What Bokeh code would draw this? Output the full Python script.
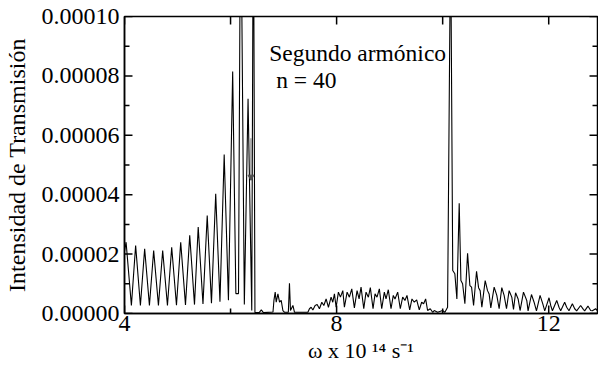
import math
from bokeh.plotting import figure
from bokeh.models import (LinearAxis, FixedTicker, PrintfTickFormatter, Range1d)
from bokeh.core.properties import value
from bokeh.embed import file_html
from bokeh.resources import INLINE

# ---------------- data ----------------
omega = [
    4.00, 4.03, 4.13, 4.21, 4.30, 4.38, 4.47, 4.55, 4.64, 4.72, 4.81, 4.89, 4.98, 5.06,
    5.15, 5.23, 5.32, 5.39, 5.48, 5.56, 5.64, 5.72, 5.80, 5.88, 5.96, 6.04, 6.10, 6.15,
    6.19, 6.26, 6.33, 6.40, 6.43, 6.46, 6.54, 6.58, 6.62, 6.80,
    6.818, 6.842, 6.861, 6.893, 6.924, 6.955, 6.987, 7.02, 7.09, 7.111, 7.130, 7.176,
    7.206, 7.458, 7.488, 7.520, 7.552, 7.595, 7.633, 7.676, 7.721, 7.759, 7.802, 7.846,
    7.896, 7.928, 7.959, 7.991, 8.034, 8.072, 8.117, 8.147, 8.198, 8.241, 8.286, 8.335,
    8.386, 8.424, 8.461, 8.512, 8.555, 8.599, 8.636, 8.687, 8.725, 8.762, 8.806, 8.851,
    8.900, 8.932, 8.975, 9.026, 9.069, 9.101, 9.152, 9.201, 9.246, 9.289, 9.327, 9.378,
    9.421, 9.465, 9.510, 9.559, 9.604, 9.641, 9.679, 9.716, 9.766, 9.811, 9.841, 9.905,
    9.999, 10.042, 10.093, 10.15, 10.19, 10.23, 10.268, 10.312, 10.344, 10.376, 10.419,
    10.470, 10.513, 10.545, 10.583, 10.639, 10.677, 10.707, 10.739, 10.802, 10.846,
    10.876, 10.908, 10.971, 11.021, 11.065, 11.115, 11.159, 11.204, 11.253, 11.304,
    11.336, 11.375, 11.423, 11.460, 11.524, 11.586, 11.611, 11.675, 11.724, 11.769,
    11.837, 11.887, 11.925, 12.006, 12.038, 12.070, 12.151, 12.194, 12.226, 12.301,
    12.339, 12.382, 12.446, 12.490, 12.527, 12.602, 12.653, 12.678, 12.740, 12.791,
    12.823, 12.885, 12.917, 12.95,
]
intensity = [
    21.0e-6, 24.0e-6, 2.7e-6, 22.9e-6, 2.7e-6, 21.8e-6, 2.7e-6, 21.2e-6, 2.7e-6, 21.2e-6,
    2.7e-6, 22.3e-6, 2.8e-6, 24.0e-6, 2.9e-6, 26.3e-6, 3.0e-6, 29.1e-6, 3.2e-6, 33.0e-6,
    3.5e-6, 40.3e-6, 4.0e-6, 53.5e-6, 4.5e-6, 81.5e-6, 6.7e-6, 6.7e-6,
    150e-6, 3.0e-6, 72.3e-6, 1.0e-6, 150e-6, 0.3e-6, 0.3e-6, 1.2e-6, 0.3e-6, 0.5e-6,
    4.4e-6, 7.2e-6, 3.8e-6, 6.6e-6, 3.8e-6, 4.4e-6, 1.0e-6, 0.4e-6, 0.4e-6, 10.2e-6, 1.0e-6, 2.7e-6,
    0.4e-6, 0.4e-6, 1.6e-6, 2.1e-6, 1.2e-6, 2.7e-6, 3.0e-6, 1.6e-6, 3.8e-6, 2.7e-6, 4.9e-6, 2.1e-6,
    5.5e-6, 3.8e-6, 6.6e-6, 2.1e-6, 7.2e-6, 5.5e-6, 7.7e-6, 2.1e-6, 7.2e-6, 5.5e-6, 8.3e-6, 1.9e-6,
    7.7e-6, 4.9e-6, 8.9e-6, 1.6e-6, 7.2e-6, 5.5e-6, 8.7e-6, 1.6e-6, 6.6e-6, 5.5e-6, 8.3e-6, 1.6e-6,
    7.2e-6, 4.9e-6, 8.0e-6, 1.6e-6, 6.1e-6, 4.9e-6, 7.2e-6, 1.6e-6, 5.5e-6, 4.4e-6, 6.1e-6, 1.2e-6,
    4.9e-6, 3.8e-6, 4.6e-6, 1.2e-6, 3.8e-6, 3.3e-6, 4.9e-6, 1.0e-6, 1.6e-6, 0.4e-6, 1.0e-6, 0.4e-6,
    1.0e-6, 0.4e-6, 2.1e-6, 130e-6, 14.5e-6, 13.4e-6, 4.9e-6, 37.1e-6, 11.1e-6, 10.0e-6, 3.3e-6,
    20.3e-6, 9.4e-6, 8.9e-6, 2.7e-6, 14.2e-6, 8.7e-6, 7.7e-6, 2.1e-6, 11.1e-6, 7.7e-6,
    6.6e-6, 1.9e-6, 8.9e-6, 6.1e-6, 1.6e-6, 8.7e-6, 6.1e-6, 1.6e-6, 7.7e-6, 5.5e-6,
    1.4e-6, 7.0e-6, 4.9e-6, 1.0e-6, 7.2e-6, 4.4e-6, 0.9e-6, 6.4e-6, 3.8e-6, 0.9e-6,
    6.1e-6, 3.3e-6, 0.9e-6, 5.3e-6, 2.7e-6, 0.9e-6, 4.4e-6, 2.1e-6, 0.9e-6, 3.8e-6,
    2.1e-6, 0.9e-6, 3.3e-6, 1.6e-6, 0.9e-6, 2.7e-6, 1.4e-6, 0.9e-6, 2.5e-6, 1.0e-6,
    0.9e-6, 1.6e-6, 1.0e-6, 0.9e-6,
]
x_major = [4, 8, 12]
x_minor = [6, 10]
y_major = [0.0, 2e-5, 4e-5, 6e-5, 8e-5, 1e-4]
y_minor = [1e-5, 3e-5, 5e-5, 7e-5, 9e-5]
arrow_x = 6.385
arrow_y = (5.9e-5, 4.6e-5)
notes = ["Segundo armónico", "n = 40"]

# ---------------- layout ----------------
W, H = 598, 377
L, R, T, B = 123, 597, 16, 313
X0, X1 = 4.0, 12.92
Y0, Y1 = 0.0, 1.0e-4
FONT = "Liberation Serif"
DX = (X1 - X0) / (R - L)   # data units per pixel
DY = (Y1 - Y0) / (B - T)
MAJ, MIN = 8, 5            # inward tick lengths, px

p = figure(width=W, height=H, output_backend="svg", toolbar_location=None,
           x_range=Range1d(X0, X1), y_range=Range1d(Y0, Y1),
           x_axis_location=None, y_axis_location=None,
           min_border_left=L, min_border_right=W - R, min_border_top=T,
           min_border_bottom=H - B)
p.xgrid.visible = False
p.ygrid.visible = False
p.outline_line_color = "black"
p.outline_line_width = 1.5

def style_axis(ax):
    ax.axis_line_color = "black"
    ax.axis_line_width = 1.5
    ax.major_tick_in = 0
    ax.major_tick_out = 0
    ax.minor_tick_in = 0
    ax.minor_tick_out = 0
    ax.major_label_text_font = FONT
    ax.major_label_text_color = "black"
    ax.major_label_text_font_size = "24px"
    ax.axis_label_text_font = FONT
    ax.axis_label_text_font_style = "normal"
    ax.axis_label_text_color = "black"

xb = LinearAxis(ticker=FixedTicker(ticks=x_major, minor_ticks=x_minor),
                axis_label="ω x 10 ¹⁴ s⁻¹")
style_axis(xb)
xb.major_label_standoff = 2
xb.axis_label_text_font_size = "22px"
xb.axis_label_standoff = 4
p.add_layout(xb, "below")

yl = LinearAxis(ticker=FixedTicker(ticks=y_major, minor_ticks=y_minor),
                formatter=PrintfTickFormatter(format="%.5f"),
                axis_label="Intensidad de Transmisión")
style_axis(yl)
yl.major_label_standoff = 5
yl.axis_label_text_font_size = "24px"
yl.axis_label_standoff = 9
p.add_layout(yl, "left")

# inward ticks on all four sides, drawn from the tick arrays
xt_all = x_major + x_minor
xt_len = [MAJ] * len(x_major) + [MIN] * len(x_minor)
yt_all = y_major + y_minor
yt_len = [MAJ] * len(y_major) + [MIN] * len(y_minor)

tick_xs, tick_ys = [], []
for xv, n in zip(xt_all, xt_len):
    tick_xs.append([xv, xv]); tick_ys.append([Y0, Y0 + n * DY])
    tick_xs.append([xv, xv]); tick_ys.append([Y1, Y1 - MAJ * DY])
for yv, n in zip(yt_all, yt_len):
    tick_xs.append([X0, X0 + n * DX]); tick_ys.append([yv, yv])
    tick_xs.append([X1, X1 - n * DX]); tick_ys.append([yv, yv])
p.multi_line(xs=tick_xs, ys=tick_ys, line_color="black", line_width=1.5)

p.line(omega, intensity, line_color="black", line_width=1.1)

# small grey arrow marker (drawn with glyphs)
p.segment(x0=[arrow_x], y0=[arrow_y[0]], x1=[arrow_x], y1=[arrow_y[1]],
          line_color="#808080", line_width=1.2)
p.scatter(x=[arrow_x], y=[arrow_y[1]], marker="inverted_triangle", size=6,
          fill_color="#505050", line_color="#505050")

# in-plot notes as text glyphs (positions in pixels of the frame)
note_px = [268, 275]
note_py = [52, 79]
p.text(x=[X0 + (px - L) * DX for px in note_px],
       y=[Y0 + (B - py) * DY for py in note_py],
       text=notes, text_font=value(FONT), text_font_size=value("23.5px"),
       text_color="black", text_align="left", text_baseline="alphabetic")

open("out.html", "w").write(file_html(p, INLINE))
